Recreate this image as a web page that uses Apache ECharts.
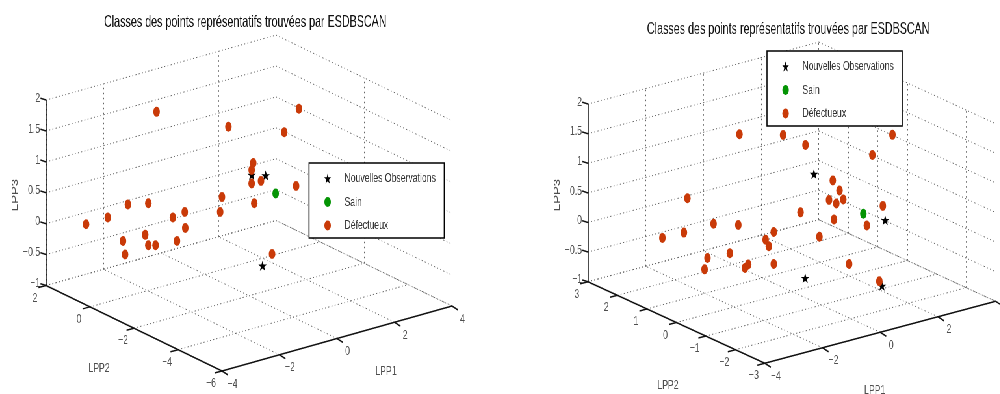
<!DOCTYPE html>
<html><head><meta charset="utf-8">
<style>html,body{margin:0;padding:0;background:#fff;overflow:hidden;width:1000px;height:394px}
#wrap{width:1000px;height:394px;overflow:hidden;position:relative}
#c{height:394px;transform-origin:0 0;position:absolute;left:0;top:0}</style>
<script src="https://cdn.jsdelivr.net/npm/echarts@6/dist/echarts.min.js"></script>
</head><body><div id="wrap"><div id="c"></div></div>
<script>
// ---- Data (LPP1, LPP2, LPP3) ----
const chartTitle = 'Classes des points représentatifs trouvées par ESDBSCAN';
const nameNew = 'Nouvelles Observations', nameSain = 'Sain', nameDef = 'Défectueux';

const leftNewLpp1 = [0.83, 0.52, 0.76];
const leftNewLpp2 = [-1.67, -1.44, -1.62];
const leftNewLpp3 = [0.78, 0.79, -0.68];
const leftSainLpp1 = [1.05];
const leftSainLpp2 = [-1.84];
const leftSainLpp3 = [0.49];
const leftDefLpp1 = [-1.57,0.01,1.56,1.24,0.56,0.52,0.52,0.73,1.50,-0.13,-0.17,0.58,0.97,-3.12,-2.64,-2.20,-1.75,-2.31,-2.26,-1.82,-1.75,-1.59,-1.21,-0.95,-0.94,-1.12];
const leftDefLpp2 = [0.15,-1.05,-2.23,-1.98,-1.46,-1.44,-1.44,-1.59,-2.18,-0.94,-0.91,-1.48,-1.78,1.33,0.97,0.63,0.29,0.71,0.68,0.34,0.29,0.17,-0.12,-0.32,-0.33,-0.19];
const leftDefLpp3 = [1.81,1.57,1.86,1.48,0.98,0.87,0.65,0.69,0.61,0.43,0.19,0.33,-0.49,-0.01,0.10,0.31,0.33,-0.28,-0.50,-0.18,-0.35,-0.35,0.10,0.19,-0.07,-0.28];

const rightNewLpp1 = [2.51, 0.76, 2.44, 0.95];
const rightNewLpp2 = [-0.71, 0.29, -0.67, 0.18];
const rightNewLpp3 = [0.04, -0.94, -1.07, 0.82];
const rightSainLpp1 = [2.03];
const rightSainLpp2 = [-0.44];
const rightSainLpp3 = [0.15];
const rightDefLpp1 = [-0.68,0.27,0.76,2.67,2.23,1.36,1.51,1.59,1.28,1.44,2.46,0.66,1.39,2.11,1.07,0.07,-0.11,-0.04,0.07,1.72,2.38,-1.82,-1.25,-0.71,-1.90,-2.37,-0.89,-1.38,-1.45,-0.56,-0.49];
const rightDefLpp2 = [1.11,0.56,0.28,-0.80,-0.55,-0.06,-0.14,-0.19,-0.01,-0.10,-0.68,0.35,-0.07,-0.48,0.11,0.68,0.78,0.74,0.68,-0.26,-0.64,1.76,1.43,1.12,1.80,2.07,1.23,1.51,1.54,1.04,1.00];
const rightDefLpp3 = [1.49,1.48,1.31,1.48,1.14,0.71,0.54,0.39,0.38,0.32,0.28,0.17,0.05,-0.05,-0.24,-0.16,-0.29,-0.40,-0.70,-0.70,-0.99,0.41,-0.02,-0.04,-0.17,-0.26,-0.52,-0.60,-0.79,-0.77,-0.71];

const leftLpp1Ticks = [-4,-2,0,2,4];
const leftLpp2Ticks = [2,0,-2,-4,-6];
const rightLpp1Ticks = [-4,-2,0,2,4];
const rightLpp2Ticks = [3,2,1,0,-1,-2,-3];
const lpp3Ticks = [-1,-0.5,0,0.5,1,1.5,2];
const lpp3TickLabels = ['−1','−0.5','0','0.5','1','1.5','2'];
const leftLpp1TickLabels = ['−4','−2','0','2','4'];
const leftLpp2TickLabels = ['2','0','−2','−4','−6'];
const rightLpp1TickLabels = ['−4','−2','0','2',''];
const rightLpp2TickLabels = ['3','2','1','0','−1','−2','−3'];

// The reference is horizontally condensed: the chart is laid out wider and squeezed as a whole.
const S = 0.65;
const sx = v => v / S;
document.getElementById('c').style.width = sx(1000) + 'px';
document.getElementById('c').style.transform = 'scaleX(' + S + ')';

const FONT = '"Liberation Sans",Arial,sans-serif';
const panels = [
 {range:[0,500], o:[46,285.5], ex:[28.75,-8.125], ey:[22,10.69], ez:-61.8, xMin:-4,xMax:4,yMin:-6,yMax:2,
  xT:leftLpp1Ticks,yT:leftLpp2Ticks,xL:leftLpp1TickLabels,yL:leftLpp2TickLabels,
  xOff:[10.5,13], yOff:[-11,12.5], xName:[386,371], yName:[99,368], zName:[15,195], title:[242,17],
  legend:{left:309,top:163},
  nw:[leftNewLpp1,leftNewLpp2,leftNewLpp3], sa:[leftSainLpp1,leftSainLpp2,leftSainLpp3], de:[leftDefLpp1,leftDefLpp2,leftDefLpp3]},
 {range:[500,1000], o:[588,281.7], ex:[28.875,-7.75], ey:[29.5,13.6], ez:-59.2, xMin:-4,xMax:4,yMin:-3,yMax:3,
  xT:rightLpp1Ticks,yT:rightLpp2Ticks,xL:rightLpp1TickLabels,yL:rightLpp2TickLabels,
  xOff:[11,13], yOff:[-11,12.5], xName:[875,390], yName:[668,385], zName:[557.4,195], title:[785,24],
  legend:{left:767,top:51},
  nw:[rightNewLpp1,rightNewLpp2,rightNewLpp3], sa:[rightSainLpp1,rightSainLpp2,rightSainLpp3], de:[rightDefLpp1,rightDefLpp2,rightDefLpp3]}
];
function project(p,x,y,z){
  const a=x-p.xMin,b=p.yMax-y,c=z+1;
  return [p.o[0]+a*p.ex[0]+b*p.ey[0], p.o[1]+a*p.ex[1]+b*p.ey[1]+c*p.ez];
}
const STAR='path://M50 0L62 35L98 35L69 57L80 92L50 71L20 92L31 57L2 35L38 35Z';
const RED='#c93a08', GREEN='#049404';
const grids=[],xAxes=[],yAxes=[],series=[],titles=[],legends=[];

panels.forEach((p,i)=>{
  grids.push({left:sx(p.range[0]),top:0,width:sx(500),height:394});
  xAxes.push({type:'value',gridIndex:i,min:p.range[0],max:p.range[1],show:false});
  yAxes.push({type:'value',gridIndex:i,min:0,max:394,inverse:true,show:false});
  const base={xAxisIndex:i,yAxisIndex:i,silent:true,animation:false};
  const seg=(a,b)=>({coords:[a,b]});
  const P=(x,y,z)=>project(p,x,y,z);
  const grid=[];
  p.xT.forEach(x=>{
    grid.push(seg(P(x,p.yMin,-1),P(x,p.yMax,-1)));
    grid.push(seg(P(x,p.yMax,-1),P(x,p.yMax,2)));
  });
  p.yT.forEach(y=>{
    grid.push(seg(P(p.xMin,y,-1),P(p.xMax,y,-1)));
    grid.push(seg(P(p.xMax,y,-1),P(p.xMax,y,2)));
  });
  lpp3Ticks.forEach(z=>{
    grid.push(seg(P(p.xMin,p.yMax,z),P(p.xMax,p.yMax,z)));
    grid.push(seg(P(p.xMax,p.yMax,z),P(p.xMax,p.yMin,z)));
  });
  series.push(Object.assign({type:'lines',coordinateSystem:'cartesian2d',polyline:false,z:1,
    lineStyle:{color:'#666',width:1,type:[1.5,3.5],opacity:1,curveness:0},data:grid},base));
  const ax=[seg(P(p.xMin,p.yMax,-1),P(p.xMin,p.yMax,2)),
            seg(P(p.xMin,p.yMax,-1),P(p.xMin,p.yMin,-1)),
            seg(P(p.xMin,p.yMin,-1),P(p.xMax,p.yMin,-1))];
  const shift=(q,d)=>[q[0]+d[0],q[1]+d[1]];
  lpp3Ticks.forEach(z=>{const q=P(p.xMin,p.yMax,z);ax.push(seg(q,shift(q,[-5.5,-1.8])));});
  p.yT.forEach(y=>{const q=P(p.xMin,y,-1);ax.push(seg(q,shift(q,[-7.5,2])));});
  p.xT.forEach(x=>{const q=P(x,p.yMin,-1);ax.push(seg(q,shift(q,[6,4])));});
  series.push(Object.assign({type:'lines',coordinateSystem:'cartesian2d',polyline:false,z:2,
    lineStyle:{color:'#111',width:1.5,opacity:1,curveness:0},data:ax},base));
  const lab=(q,text,off,extra)=>({value:q,label:Object.assign({show:true,formatter:text,offset:[sx(off[0]),off[1]]},extra||{})});
  const labels=[];
  lpp3Ticks.forEach((z,k)=>labels.push(lab(P(p.xMin,p.yMax,z),lpp3TickLabels[k],[0,-2],{position:'left',distance:sx(6)})));
  p.yT.forEach((y,k)=>labels.push(lab(P(p.xMin,y,-1),p.yL[k],p.yOff)));
  p.xT.forEach((x,k)=>labels.push(lab(P(x,p.yMin,-1),p.xL[k],p.xOff)));
  labels.push(lab(p.xName,'LPP1',[0,0]));
  labels.push(lab(p.yName,'LPP2',[0,0]));
  labels.push(lab(p.zName,'LPP3',[0,0],{rotate:90}));
  series.push(Object.assign({type:'scatter',symbolSize:0,z:3,clip:false,
    label:{show:true,position:'inside',color:'#222',fontFamily:FONT,fontSize:13.3},data:labels},base));
  const pts=arr=>arr[0].map((v,k)=>P(v,arr[1][k],arr[2][k]));
  series.push(Object.assign({type:'scatter',name:nameNew,symbol:STAR,symbolSize:[13,10],symbolKeepAspect:false,z:4,
    itemStyle:{color:'#000',opacity:1},data:pts(p.nw)},base));
  series.push(Object.assign({type:'scatter',name:nameSain,symbol:'circle',symbolSize:10,z:5,
    itemStyle:{color:GREEN,opacity:1},data:pts(p.sa)},base));
  series.push(Object.assign({type:'scatter',name:nameDef,symbol:'circle',symbolSize:10,z:6,
    itemStyle:{color:RED,opacity:1},data:pts(p.de)},base));
  titles.push({text:chartTitle,left:sx(p.title[0]),top:p.title[1]-8,textAlign:'center',
    textStyle:{fontFamily:FONT,fontWeight:'normal',fontSize:16.5,color:'#111'}});
  legends.push({orient:'vertical',left:sx(p.legend.left),top:p.legend.top,padding:[9,13,6,23.4],itemWidth:42,itemHeight:10,itemGap:10.5,
    align:'left',backgroundColor:'#fff',borderColor:'#000',borderWidth:1.6,z:20,selectedMode:false,
    textStyle:{fontFamily:FONT,fontSize:13.3,color:'#333'},
    data:[{name:nameNew,icon:STAR},{name:nameSain,icon:'circle'},{name:nameDef,icon:'circle'}]});
});

const chart=echarts.init(document.getElementById('c'),null,{renderer:'canvas'});
chart.setOption({animation:false,backgroundColor:'#fff',title:titles,legend:legends,tooltip:{show:false},
  grid:grids,xAxis:xAxes,yAxis:yAxes,series:series});
</script></body></html>
